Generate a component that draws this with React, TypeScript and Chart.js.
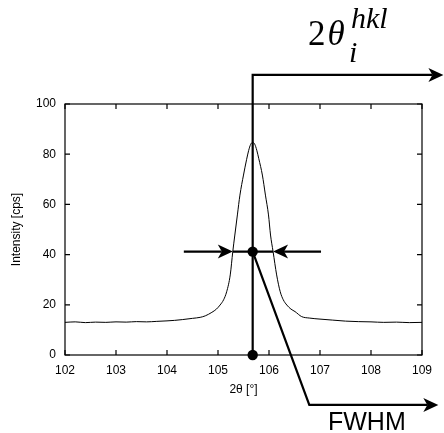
import React, { useEffect, useRef } from "react";
import { Chart, registerables } from "chart.js";

Chart.register(...registerables);

// Measured profile (2θ in degrees, intensity in cps)
const TWO_THETA = [
  102.0, 102.2, 102.4, 102.6, 102.8, 103.0, 103.2, 103.4, 103.6, 103.8, 104.0,
  104.15, 104.3, 104.5, 104.65, 104.75, 104.88, 104.97, 105.04, 105.11, 105.17,
  105.24, 105.29, 105.33, 105.38, 105.43, 105.5, 105.56, 105.6, 105.64, 105.68,
  105.72, 105.76, 105.8, 105.87, 105.93, 105.99, 106.03, 106.08, 106.15, 106.22,
  106.28, 106.35, 106.43, 106.51, 106.64, 106.8, 107.0, 107.25, 107.5, 107.75,
  108.0, 108.25, 108.5, 108.75, 109.0,
];
const INTENSITY = [
  13.0, 13.2, 12.9, 13.1, 13.0, 13.2, 13.1, 13.3, 13.2, 13.4, 13.6,
  13.8, 14.1, 14.6, 15.0, 15.6, 17.0, 18.3, 19.9, 22.0, 25.2,
  31.9, 41.2, 47.8, 55.8, 63.7, 71.7, 77.8, 81.4, 83.9, 84.7,
  84.0, 81.6, 78.2, 71.7, 63.7, 55.8, 47.8, 41.2, 31.9, 25.2,
  22.0, 19.9, 18.3, 17.3, 15.3, 14.7, 14.3, 13.9, 13.5, 13.3,
  13.2, 13.0, 13.1, 12.9, 13.0,
];

const X_TICKS = [102, 103, 104, 105, 106, 107, 108, 109];
const Y_TICKS = [0, 20, 40, 60, 80, 100];

// Annotation anchors (data coordinates)
const PEAK_POS = 105.68;
const HALF_LEVEL = 41.2;
const LEFT_ARROW = [104.33, 105.29]; // from, to
const RIGHT_ARROW = [107.02, 106.08]; // from, to
const TOP_LEVEL = 111.6;
const TOP_ARROW_END = 109.42;
const FWHM_BEND = [106.79, -19.9];
const FWHM_ARROW_END = 109.32;

function arrowHead(ctx: CanvasRenderingContext2D, tx: number, ty: number, dx: number, dy: number) {
  const len = 15, half = 7, notch = 4;
  const px = -dy, py = dx;
  const bx = tx - dx * len, by = ty - dy * len;
  ctx.beginPath();
  ctx.moveTo(tx, ty);
  ctx.lineTo(bx + px * half, by + py * half);
  ctx.lineTo(bx + dx * notch, by + dy * notch);
  ctx.lineTo(bx - px * half, by - py * half);
  ctx.closePath();
  ctx.fill();
}

const framePlugin = {
  id: "frameAndNotes",
  afterDraw(chart: any) {
    const { ctx, chartArea, scales } = chart;
    const xs = scales.x, ys = scales.y;
    const { left, right, top, bottom } = chartArea;
    ctx.save();
    ctx.strokeStyle = "#000";
    ctx.fillStyle = "#000";
    // frame
    ctx.lineWidth = 1.2;
    ctx.strokeRect(left, top, right - left, bottom - top);
    // inward ticks
    ctx.beginPath();
    X_TICKS.forEach((v) => {
      const x = xs.getPixelForValue(v);
      ctx.moveTo(x, bottom); ctx.lineTo(x, bottom - 5);
      ctx.moveTo(x, top); ctx.lineTo(x, top + 5);
    });
    Y_TICKS.forEach((v) => {
      const y = ys.getPixelForValue(v);
      ctx.moveTo(left, y); ctx.lineTo(left + 5, y);
      ctx.moveTo(right, y); ctx.lineTo(right - 5, y);
    });
    ctx.stroke();

    // annotations
    const px = xs.getPixelForValue(PEAK_POS);
    const y0 = ys.getPixelForValue(0);
    const yh = ys.getPixelForValue(HALF_LEVEL);
    const yt = ys.getPixelForValue(TOP_LEVEL);
    const xt = xs.getPixelForValue(TOP_ARROW_END);
    ctx.lineWidth = 2.2;
    ctx.lineJoin = "miter";
    ctx.beginPath();
    ctx.moveTo(px, y0);
    ctx.lineTo(px, yt);
    ctx.lineTo(xt - 11, yt);
    ctx.stroke();
    arrowHead(ctx, xt, yt, 1, 0);

    // FWHM horizontal arrows
    const la0 = xs.getPixelForValue(LEFT_ARROW[0]);
    const la1 = xs.getPixelForValue(LEFT_ARROW[1]);
    const ra0 = xs.getPixelForValue(RIGHT_ARROW[0]);
    const ra1 = xs.getPixelForValue(RIGHT_ARROW[1]);
    ctx.beginPath();
    ctx.moveTo(la0, yh); ctx.lineTo(la1 - 11, yh);
    ctx.moveTo(la1, yh); ctx.lineTo(ra1, yh);
    ctx.moveTo(ra0, yh); ctx.lineTo(ra1 + 11, yh);
    ctx.stroke();
    arrowHead(ctx, la1, yh, 1, 0);
    arrowHead(ctx, ra1, yh, -1, 0);

    // FWHM leader
    const bx = xs.getPixelForValue(FWHM_BEND[0]);
    const by = ys.getPixelForValue(FWHM_BEND[1]);
    const fx = xs.getPixelForValue(FWHM_ARROW_END);
    ctx.beginPath();
    ctx.moveTo(px, yh);
    ctx.lineTo(bx, by);
    ctx.lineTo(fx - 11, by);
    ctx.stroke();
    arrowHead(ctx, fx, by, 1, 0);

    // dots
    ctx.beginPath(); ctx.arc(px, yh, 5.2, 0, Math.PI * 2); ctx.fill();
    ctx.beginPath(); ctx.arc(px, y0, 5.2, 0, Math.PI * 2); ctx.fill();

    // labels
    ctx.textBaseline = "alphabetic";
    ctx.textAlign = "left";
    ctx.font = "35px 'Liberation Serif', serif";
    ctx.fillText("2", 308, 45);
    const w2 = ctx.measureText("2").width;
    ctx.font = "italic 35px 'Liberation Serif', serif";
    ctx.fillText("θ", 308 + w2 + 2, 45);
    ctx.font = "italic 30px 'Liberation Serif', serif";
    ctx.fillText("hkl", 351, 28);
    ctx.fillText("i", 349, 62);

    ctx.font = "25px 'Liberation Sans', Arial, sans-serif";
    ctx.fillText("FWHM", 328, 430);
    ctx.restore();
  },
};

export default function App() {
  const ref = useRef<HTMLCanvasElement | null>(null);
  useEffect(() => {
    if (!ref.current) return;
    const data = TWO_THETA.map((x, i) => ({ x, y: INTENSITY[i] }));
    const tickFont = { family: "'Liberation Sans', Arial, sans-serif", size: 12 };
    const titleFont = { family: "'Liberation Sans', Arial, sans-serif", size: 12 };
    const chart = new Chart(ref.current, {
      type: "line",
      data: {
        datasets: [
          {
            data,
            borderColor: "#000",
            borderWidth: 1,
            pointRadius: 0,
            fill: false,
            cubicInterpolationMode: "monotone",
          },
        ],
      },
      options: {
        responsive: false,
        animation: false,
        devicePixelRatio: 1,
        layout: { padding: { left: 0, top: 104, right: 22, bottom: 35 } },
        plugins: { legend: { display: false }, tooltip: { enabled: false } },
        scales: {
          x: {
            type: "linear",
            min: 102,
            max: 109,
            afterFit: (s: any) => { s.height = 43; },
            grid: { display: false, drawTicks: false },
            border: { display: false },
            ticks: { stepSize: 1, padding: 8, color: "#000", font: tickFont, maxRotation: 0 },
            title: { display: true, text: "2θ [°]", color: "#000", font: titleFont, padding: { top: 0, bottom: 1 } },
          },
          y: {
            type: "linear",
            min: 0,
            max: 100,
            afterFit: (s: any) => { s.width = 65; },
            grid: { display: false, drawTicks: false },
            border: { display: false },
            ticks: { stepSize: 20, padding: 9, color: "#000", font: tickFont },
            title: { display: true, text: "Intensity [cps]", color: "#000", font: titleFont, padding: { top: 9, bottom: 0 } },
          },
        },
      },
      plugins: [framePlugin],
    } as any);
    return () => chart.destroy();
  }, []);
  return (
    <div style={{ position: "absolute", left: 0, top: 0, width: 444, height: 433, background: "#fff" }}>
      <canvas ref={ref} width={444} height={433} style={{ display: "block" }} />
    </div>
  );
}
